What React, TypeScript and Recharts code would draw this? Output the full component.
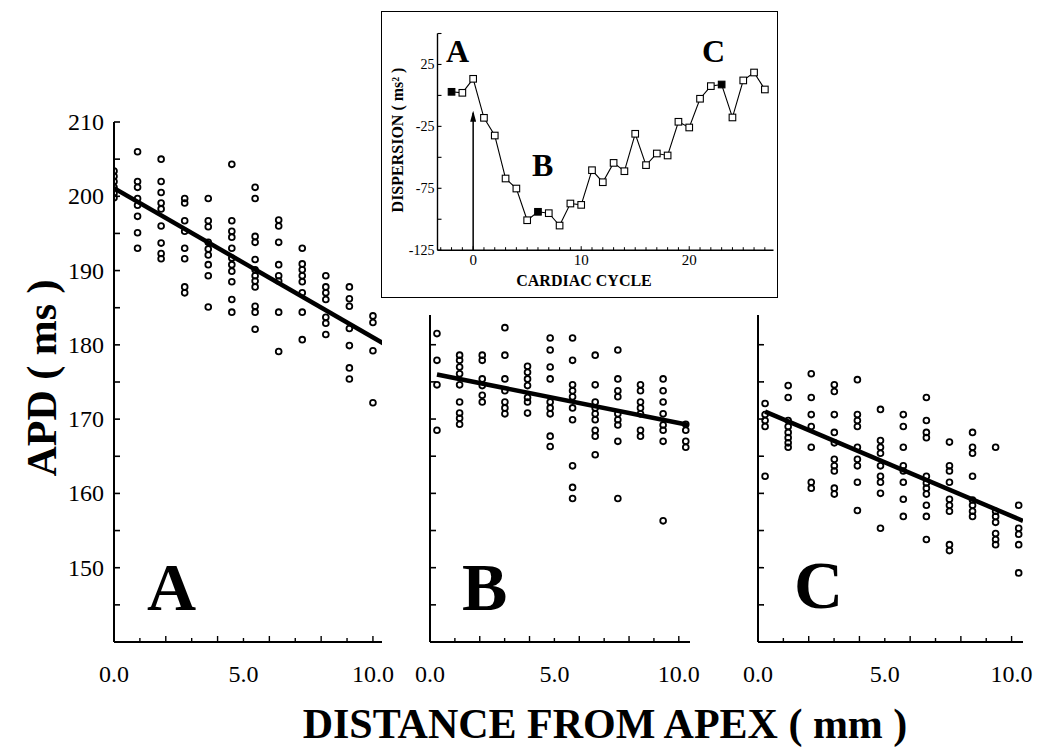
import React from 'react';
import { ScatterChart, Scatter, XAxis, YAxis, LineChart, Line } from 'recharts';

const SERIF = '"Liberation Serif", "Times New Roman", Times, serif';

// ---------- main panels: distance of each recording column (mm) ----------
const distanceA = [0.0, 0.91, 1.82, 2.73, 3.64, 4.55, 5.45, 6.36, 7.27, 8.18, 9.09, 10.0];
const distanceBC = [0.28, 1.19, 2.1, 3.01, 3.92, 4.83, 5.73, 6.64, 7.55, 8.46, 9.37, 10.28];

// APD values (ms) per column
const apdA = [
  [203.4, 202.7, 202.0, 201.2, 200.4, 199.8],
  [206.0, 202.0, 201.2, 199.7, 198.8, 197.3, 195.1, 193.0],
  [205.0, 202.0, 200.5, 199.1, 198.3, 196.0, 193.7, 192.3, 191.6],
  [199.7, 199.1, 196.7, 195.3, 193.0, 191.6, 187.8, 187.0],
  [199.7, 196.7, 195.9, 193.8, 192.9, 192.1, 190.8, 189.3, 185.1],
  [204.3, 196.7, 195.3, 194.5, 193.0, 191.7, 190.8, 189.9, 188.5, 186.1, 184.4],
  [201.2, 199.7, 194.6, 193.8, 191.5, 190.1, 189.3, 188.6, 187.8, 185.2, 184.4, 182.1],
  [196.8, 196.0, 193.8, 190.8, 189.3, 188.6, 184.4, 179.1],
  [193.0, 190.9, 190.1, 189.3, 188.5, 187.0, 184.4, 180.7],
  [189.3, 187.8, 187.0, 186.1, 183.7, 182.9, 181.4],
  [187.8, 186.2, 185.2, 182.2, 179.9, 176.9, 175.4],
  [183.9, 183.0, 179.2, 172.2],
];
const apdB = [
  [181.5, 177.9, 174.6, 168.5],
  [178.6, 177.9, 177.0, 176.1, 174.6, 172.3, 170.8, 170.1, 169.3],
  [178.6, 177.9, 175.4, 174.5, 173.2, 172.3],
  [182.3, 178.6, 175.4, 173.8, 172.3, 171.5, 170.7],
  [177.1, 176.3, 175.4, 174.5, 172.9, 172.3, 170.8],
  [180.9, 179.3, 177.0, 175.4, 172.3, 171.5, 170.7, 167.7, 166.3],
  [180.9, 177.9, 174.6, 173.8, 173.0, 171.5, 169.9, 163.7, 160.8, 159.3],
  [178.6, 174.6, 172.3, 171.5, 170.7, 169.9, 168.5, 167.7, 165.2],
  [179.3, 175.4, 173.8, 173.0, 170.7, 169.9, 169.2, 167.0, 159.3],
  [174.6, 173.8, 172.3, 171.5, 170.7, 168.5, 167.7],
  [175.4, 173.8, 172.3, 170.7, 169.2, 168.5, 167.0, 156.3],
  [169.3, 168.5, 167.0, 166.2],
];
const apdC = [
  [172.1, 170.6, 169.8, 169.0, 162.3],
  [174.5, 172.9, 169.8, 169.0, 168.2, 167.5, 166.8, 166.2],
  [176.1, 172.9, 170.6, 169.0, 166.2, 161.5, 160.7],
  [174.6, 173.7, 170.6, 168.2, 166.8, 164.6, 163.7, 163.0, 160.7, 159.9],
  [175.3, 170.6, 169.8, 169.0, 166.2, 164.6, 163.7, 161.5, 157.7],
  [171.3, 167.1, 166.2, 165.4, 163.7, 162.3, 161.5, 160.0, 155.3],
  [170.6, 169.0, 166.2, 163.7, 163.0, 161.5, 159.2, 156.9],
  [172.9, 169.8, 168.2, 167.5, 162.3, 161.4, 160.7, 159.9, 158.4, 156.9, 153.8],
  [166.9, 163.7, 163.0, 161.5, 159.2, 158.4, 157.6, 153.1, 152.3],
  [168.2, 166.2, 165.4, 162.3, 159.1, 158.4, 157.6, 156.9],
  [166.2, 157.6, 156.9, 156.1, 154.6, 153.8, 153.1],
  [158.4, 155.3, 154.5, 153.1, 149.3],
];

// regression line end points [distance, APD]
const regA = [{ x: 0.0, y: 201.1 }, { x: 10.4, y: 180.2 }];
const regB = [{ x: 0.28, y: 176.0 }, { x: 10.4, y: 169.2 }];
const regC = [{ x: 0.28, y: 171.0 }, { x: 10.45, y: 156.3 }];

// axis ticks
const apdTicksA = [145, 150, 155, 160, 165, 170, 175, 180, 185, 190, 195, 200, 205, 210];
const apdTicksBC = [145, 150, 155, 160, 165, 170, 175, 180];
const distTicks = [0, 1, 2, 3, 4, 5, 6, 7, 8, 9, 10];
const distLabelTicks = [0, 5, 10];

// ---------- inset: dispersion vs cardiac cycle ----------
const insetCycles = [-2, -1, 0, 1, 2, 3, 4, 5, 6, 7, 8, 9, 10, 11, 12, 13, 14, 15, 16, 17, 18, 19, 20, 21, 22, 23, 24, 25, 26, 27];
const insetDispersion = [2.9, 2.1, 13.4, -18.1, -32.4, -67.1, -75.2, -100.8, -94.0, -95.1, -105.1, -87.3, -88.4, -60.4, -70.1, -54.5, -61.2, -31.0, -56.3, -46.9, -48.5, -21.3, -25.9, -2.7, 7.5, 8.8, -17.8, 12.1, 18.5, 4.8];
const insetFilledCycles = [-2, 6, 23];
const insetArrow = [{ cycle: 0, d: -125 }, { cycle: 0, d: -14 }];
const insetYTicks = [50, 25, 0, -25, -50, -75, -100, -125];
const insetYLabels = [25, -25, -75, -125];
const insetXTicks = [-3, -2, -1, 0, 1, 2, 3, 4, 5, 6, 7, 8, 9, 10, 11, 12, 13, 14, 15, 16, 17, 18, 19, 20, 21, 22, 23, 24, 25, 26, 27];
const insetXLabels = [0, 10, 20];

const toPoints = (xs: number[], cols: number[][]) =>
  cols.flatMap((col, i) => col.map((y) => ({ x: xs[i], y })));

const pointsA = toPoints(distanceA, apdA);
const pointsB = toPoints(distanceBC, apdB);
const pointsC = toPoints(distanceBC, apdC);
const insetData = insetCycles.map((c, i) => ({ cycle: c, d: insetDispersion[i] }));

const makeYTick = (labelled: boolean) => (props: any) => {
  const { x, y, payload } = props;
  const v = payload.value;
  return (
    <g>
      <line x1={x} x2={x + 6} y1={y} y2={y} stroke="#000" strokeWidth={1.6} />
      {labelled && v % 10 === 0 && (
        <text x={x - 10} y={y} dy={8} textAnchor="end" fontFamily={SERIF} fontSize={24} fill="#000">
          {v}
        </text>
      )}
    </g>
  );
};

const XTick = (props: any) => {
  const { x, y, payload } = props;
  const v = payload.value;
  const len = v === 0 ? 0 : v % 2 === 0 ? 6 : 4;
  return (
    <g>
      <line x1={x} x2={x} y1={y} y2={y - len} stroke="#000" strokeWidth={1.4} />
      {distLabelTicks.includes(v) && (
        <text x={x} y={y + 40} textAnchor="middle" fontFamily={SERIF} fontSize={24} fill="#000">
          {v.toFixed(1)}
        </text>
      )}
    </g>
  );
};

const OpenCircle = (props: any) => (
  <circle cx={props.cx} cy={props.cy} r={2.9} fill="none" stroke="#000" strokeWidth={1.8} />
);
const NoShape = () => <g />;

type PanelProps = {
  points: { x: number; y: number }[];
  reg: { x: number; y: number }[];
  margin: { top: number; right: number; bottom: number; left: number };
  yDomain: [number, number];
  xDomain: [number, number];
  yTicks: number[];
  labelled: boolean;
};

const Panel = ({ points, reg, margin, yDomain, xDomain, yTicks, labelled }: PanelProps) => (
  <div style={{ position: 'absolute', left: 0, top: 0 }}>
    <ScatterChart width={1037} height={747} margin={margin}>
      <XAxis
        type="number"
        dataKey="x"
        domain={xDomain}
        ticks={distTicks}
        interval={0}
        height={60}
        tickSize={0}
        tickMargin={0}
        tickLine={false}
        tick={XTick}
        axisLine={{ stroke: '#000', strokeWidth: 2 }}
        allowDataOverflow
      />
      <YAxis
        type="number"
        dataKey="y"
        domain={yDomain}
        ticks={yTicks}
        interval={0}
        width={60}
        tickSize={0}
        tickMargin={0}
        tickLine={false}
        tick={makeYTick(labelled)}
        axisLine={{ stroke: '#000', strokeWidth: 2 }}
        allowDataOverflow
      />
      <Scatter data={reg} line={{ stroke: '#000', strokeWidth: 4.5 }} shape={NoShape} isAnimationActive={false} />
      <Scatter data={points} shape={OpenCircle} isAnimationActive={false} />
    </ScatterChart>
  </div>
);

const InsetDot = (props: any) => {
  const { cx, cy, payload } = props;
  const filled = insetFilledCycles.includes(payload.cycle);
  return (
    <rect
      key={`d${payload.cycle}`}
      x={cx - 3.3}
      y={cy - 3.3}
      width={6.6}
      height={6.6}
      fill={filled ? '#000' : '#fff'}
      stroke="#000"
      strokeWidth={1.1}
    />
  );
};

const ArrowHead = (props: any) => {
  const { cx, cy, index } = props;
  if (index !== 1) return <g key={`a${index}`} />;
  return <path key={`a${index}`} d={`M${cx},${cy - 2} L${cx - 3},${cy + 9} L${cx + 3},${cy + 9} Z`} fill="#000" />;
};

const InsetYTick = (props: any) => {
  const { x, y, payload } = props;
  const v = payload.value;
  return (
    <g>
      <line x1={x} x2={x + 4} y1={y} y2={y} stroke="#000" strokeWidth={1.1} />
      {insetYLabels.includes(v) && (
        <text x={x - 3} y={y} dy={5} textAnchor="end" fontFamily={SERIF} fontSize={14} fill="#000">
          {v}
        </text>
      )}
    </g>
  );
};

const InsetXTick = (props: any) => {
  const { x, y, payload } = props;
  const v = payload.value;
  const major = insetXLabels.includes(v);
  return (
    <g>
      <line x1={x} x2={x} y1={y} y2={y - (major ? 4 : 3)} stroke="#000" strokeWidth={1} />
      {major && (
        <text x={x} y={y + 15} textAnchor="middle" fontFamily={SERIF} fontSize={15} fill="#000">
          {v}
        </text>
      )}
    </g>
  );
};

const Inset = () => (
  <div
    style={{
      position: 'absolute',
      left: 381,
      top: 11,
      width: 397,
      height: 287,
      border: '1.5px solid #000',
      boxSizing: 'border-box',
      background: '#fff',
    }}
  >
    <LineChart width={394} height={284} margin={{ top: 21.5, right: 2.5, bottom: 15.8, left: 15.5 }}>
      <XAxis
        type="number"
        dataKey="cycle"
        domain={[-3.3, 27.8]}
        ticks={insetXTicks}
        interval={0}
        height={30}
        tickSize={0}
        tickMargin={0}
        tickLine={false}
        tick={InsetXTick}
        axisLine={{ stroke: '#000', strokeWidth: 1.4 }}
        allowDataOverflow
      />
      <YAxis
        type="number"
        domain={[-125, 50]}
        ticks={insetYTicks}
        interval={0}
        width={40}
        tickSize={0}
        tickMargin={0}
        tickLine={false}
        tick={InsetYTick}
        axisLine={{ stroke: '#000', strokeWidth: 1.4 }}
        allowDataOverflow
      />
      <Line data={insetArrow} dataKey="d" stroke="#000" strokeWidth={1.5} dot={ArrowHead} isAnimationActive={false} />
      <Line data={insetData} dataKey="d" stroke="#000" strokeWidth={1.1} dot={InsetDot} isAnimationActive={false} />
    </LineChart>
    <svg width={394} height={284} style={{ position: 'absolute', left: 0, top: 0, pointerEvents: 'none' }}>
      <g fontFamily={SERIF} fontWeight="bold" fill="#000">
        <text x={64} y={50} fontSize={32}>A</text>
        <text x={150} y={164} fontSize={32}>B</text>
        <text x={320} y={50} fontSize={32}>C</text>
        <text x={202} y={274} fontSize={16} textAnchor="middle">CARDIAC CYCLE</text>
        <text x={21} y={128} fontSize={16} textAnchor="middle" transform="rotate(-90, 21, 128)">
          DISPERSION ( ms² )
        </text>
      </g>
    </svg>
  </div>
);

export default function App() {
  return (
    <div style={{ position: 'absolute', left: 0, top: 0, width: 1037, height: 747, background: '#fff', overflow: 'hidden' }}>
      <Panel
        points={pointsA}
        reg={regA}
        margin={{ top: 122, right: 655, bottom: 45, left: 54 }}
        yDomain={[140, 210]}
        xDomain={[0, 10.35]}
        yTicks={apdTicksA}
        labelled
      />
      <Panel
        points={pointsB}
        reg={regB}
        margin={{ top: 315, right: 347, bottom: 45, left: 370 }}
        yDomain={[140, 184]}
        xDomain={[0, 10.45]}
        yTicks={apdTicksBC}
        labelled={false}
      />
      <Panel
        points={pointsC}
        reg={regC}
        margin={{ top: 315, right: 14, bottom: 45, left: 698 }}
        yDomain={[140, 184]}
        xDomain={[0, 10.45]}
        yTicks={apdTicksBC}
        labelled={false}
      />
      <svg width={1037} height={747} style={{ position: 'absolute', left: 0, top: 0, pointerEvents: 'none' }}>
        <g fontFamily={SERIF} fontWeight="bold" fill="#000">
          <text x={147} y={610} fontSize={68}>A</text>
          <text x={462} y={610} fontSize={68}>B</text>
          <text x={794} y={608} fontSize={68}>C</text>
          <text x={56} y={378} fontSize={42} textAnchor="middle" transform="rotate(-90, 56, 378)">
            APD ( ms )
          </text>
          <text x={605} y={738} fontSize={42} textAnchor="middle">
            DISTANCE FROM APEX ( mm )
          </text>
        </g>
      </svg>
      <Inset />
    </div>
  );
}
